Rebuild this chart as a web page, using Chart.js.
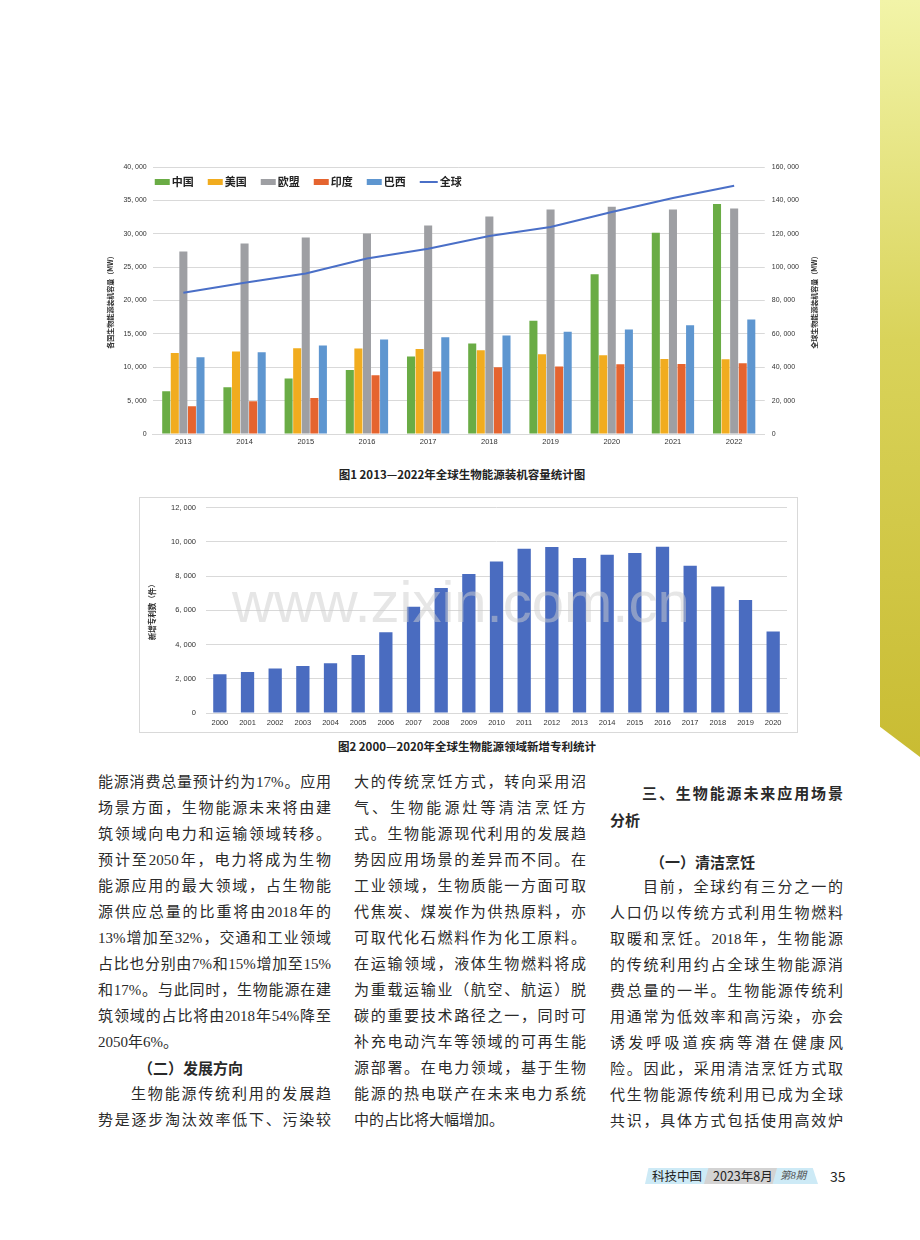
<!DOCTYPE html>
<html>
<head>
<meta charset="utf-8">
<script src="https://cdn.jsdelivr.net/npm/chart.js@4/dist/chart.umd.min.js"></script>
<style>
  body { margin: 0; background: #fff; }
  #page { position: relative; width: 920px; height: 1240px; overflow: hidden; background: #fff;
          font-family: "Liberation Serif", "Noto Sans CJK SC", serif; color: #2a2a2a; }
  .abs { position: absolute; }
  .cap { position: absolute; font-family: "Noto Sans CJK SC", sans-serif; font-weight: bold; font-size: 11.5px;
         color: #222; white-space: nowrap; transform: translateX(-50%); }
  .ln { position: absolute; height: 20px; line-height: 20px; font-size: 15px; white-space: nowrap;
        text-align: justify; text-align-last: justify; }
  .ln.l { text-align-last: left; }
  .hd { font-weight: bold; font-family: "Noto Sans CJK SC", sans-serif; }
  #band { left: 880px; top: 0; width: 40px; height: 757px;
          background: linear-gradient(#f2f4a8, #d9d35a 45%, #c9bc33);
          clip-path: polygon(0 0, 100% 0, 100% 100%, 0 96%); }
  #box2 { left: 139px; top: 497px; width: 657px; height: 234px; border: 1px solid #d9d9d9; }
  #wm { left: 232px; top: 568px; font-family: "Liberation Sans", sans-serif; font-size: 58px;
        color: rgba(205,205,205,0.5); pointer-events: none; white-space: nowrap; }
  .ft { position: absolute; font-family: "Noto Sans CJK SC", sans-serif; font-size: 12.5px; color: #222;
        line-height: 18px; top: 1167px; white-space: nowrap; }
</style>
</head>
<body>
<div id="page">
  <div id="band" class="abs"></div>

  <canvas id="chart1" class="abs" style="left:100px;top:150px;" width="730" height="300"></canvas>
  <div class="cap" style="left:462px;top:466px;">图1 2013—2022年全球生物能源装机容量统计图</div>

  <div id="box2" class="abs">
    <canvas id="chart2" class="abs" style="left:0;top:-5px;" width="657" height="239"></canvas>
  </div>
  <div id="wm" class="abs">www.zixin.com.cn</div>
  <div class="cap" style="left:467px;top:738px;">图2 2000—2020年全球生物能源领域新增专利统计</div>

  <div id="text"></div>

  <div class="abs" style="left:645px;top:1168px;width:173px;height:16px;background:#cdeaf6;clip-path:polygon(2% 0,97% 0,100% 100%,0 100%);"></div>
  <div class="abs" style="left:704px;top:1168px;width:73px;height:16px;background:#d3d3d3;clip-path:polygon(6% 0,100% 0,94% 100%,0 100%);"></div>
  <div class="ft" style="left:652px;">科技中国</div>
  <div class="ft" style="left:713px;">2023年8月</div>
  <div class="ft" style="left:780px;font:italic 10.5px 'Liberation Serif','Noto Sans CJK SC',serif;color:#555;line-height:18px;">第8期</div>
  <div class="ft" style="left:830px;font-size:14px;">35</div>
</div>

<script>
// ---- chart 1 data ----
var years1 = ['2013', '2014', '2015', '2016', '2017', '2018', '2019', '2020', '2021', '2022'];
var china  = [6400, 7000, 8300, 9600, 11600, 13550, 16950, 23950, 30150, 34450];
var usa    = [12150, 12350, 12850, 12800, 12750, 12550, 11950, 11800, 11250, 11200];
var eu     = [27350, 28550, 29450, 30050, 31250, 32600, 33650, 34050, 33650, 33800];
var india  = [4150, 4900, 5400, 8800, 9350, 10000, 10100, 10450, 10500, 10600];
var brazil = [11500, 12250, 13250, 14150, 14500, 14750, 15300, 15650, 16300, 17150];
var globalTotal = [84600, 90600, 96200, 105200, 111000, 118600, 124000, 133000, 141400, 148800];

// ---- chart 2 data ----
var years2 = ['2000', '2001', '2002', '2003', '2004', '2005', '2006', '2007', '2008', '2009', '2010',
              '2011', '2012', '2013', '2014', '2015', '2016', '2017', '2018', '2019', '2020'];
var patents = [2270, 2390, 2600, 2740, 2910, 3380, 4720, 6210, 7300, 8120, 8850,
               9590, 9690, 9050, 9240, 9340, 9710, 8600, 7380, 6600, 4760];

var tickFont = { family: 'Liberation Sans', size: 7 };
var cjk = 'Noto Sans CJK SC';
var grid = '#d9d9d9';

function fmt(v) {
  return Number(v).toLocaleString('en-US').replace(/,/g, ', ');
}

Chart.defaults.color = '#333';
Chart.defaults.animation = false;

// right axis title reads bottom-to-top like the left one
var rightTitle = {
  id: 'rightTitle',
  afterDraw: function(chart) {
    var s = chart.scales.y1, ctx = chart.ctx;
    ctx.save();
    ctx.translate(s.right + 8, (chart.chartArea.top + chart.chartArea.bottom) / 2);
    ctx.rotate(-Math.PI / 2);
    ctx.font = 'bold 7px "' + cjk + '"';
    ctx.fillStyle = '#333';
    ctx.textAlign = 'center';
    ctx.textBaseline = 'middle';
    ctx.fillText('全球生物能源装机容量（MW）', 0, 0);
    ctx.restore();
  }
};

// one-row legend inside the plot, top left
var innerLegend = {
  id: 'innerLegend',
  afterDatasetsDraw: function(chart) {
    var ctx = chart.ctx, area = chart.chartArea;
    var x = area.left + 2, y = 32;
    ctx.save();
    ctx.font = 'bold 11px "' + cjk + '"';
    ctx.textBaseline = 'middle';
    chart.data.datasets.forEach(function(ds) {
      if (ds.type === 'line') {
        ctx.strokeStyle = ds.borderColor;
        ctx.lineWidth = 2;
        ctx.beginPath();
        ctx.moveTo(x, y);
        ctx.lineTo(x + 18, y);
        ctx.stroke();
        x += 20;
      } else {
        ctx.fillStyle = ds.backgroundColor;
        ctx.fillRect(x, y - 3, 15, 6);
        x += 17;
      }
      ctx.fillStyle = '#222';
      ctx.fillText(ds.label, x, y);
      x += ctx.measureText(ds.label).width + 14;
    });
    ctx.restore();
  }
};

function bars(label, data, color) {
  return { label: label, data: data, backgroundColor: color, yAxisID: 'y', order: 1,
           categoryPercentage: 0.7, barPercentage: 0.94 };
}

new Chart(document.getElementById('chart1'), {
  type: 'bar',
  data: {
    labels: years1,
    datasets: [
      bars('中国', china, '#6aac45'),
      bars('美国', usa, '#f1ac1f'),
      bars('欧盟', eu, '#9e9fa3'),
      bars('印度', india, '#e5642f'),
      bars('巴西', brazil, '#5e96d0'),
      { type: 'line', label: '全球', data: globalTotal, yAxisID: 'y1', order: 0,
        borderColor: '#4a6fc7', backgroundColor: '#4a6fc7', borderWidth: 2,
        pointRadius: 0, tension: 0 }
    ]
  },
  options: {
    responsive: false,
    devicePixelRatio: 1,
    layout: { padding: { top: 17, left: 4, right: 24, bottom: 1 } },
    plugins: {
      tooltip: { enabled: false },
      legend: { display: false }
    },
    scales: {
      x: {
        grid: { display: false, drawTicks: false },
        border: { color: grid },
        ticks: { font: { family: 'Liberation Sans', size: 7.5 }, padding: 3 }
      },
      y: {
        position: 'left',
        min: 0, max: 40000,
        ticks: { stepSize: 5000, font: tickFont, padding: 6, callback: fmt },
        grid: { color: grid, drawTicks: false },
        border: { display: false },
        title: { display: true, text: '各国生物能源装机容量（MW）',
                 font: { family: cjk, size: 7, weight: 'bold' }, color: '#333', padding: { top: 2, bottom: 3 } }
      },
      y1: {
        position: 'right',
        min: 0, max: 160000,
        ticks: { stepSize: 20000, font: tickFont, padding: 7, callback: fmt },
        grid: { drawOnChartArea: false, drawTicks: false },
        border: { display: false }
      }
    }
  },
  plugins: [rightTitle, innerLegend]
});

new Chart(document.getElementById('chart2'), {
  type: 'bar',
  data: {
    labels: years2,
    datasets: [{ label: '新增专利数', data: patents, backgroundColor: '#4a6cc0',
                 categoryPercentage: 1, barPercentage: 0.48 }]
  },
  options: {
    responsive: false,
    devicePixelRatio: 1,
    layout: { padding: { top: 0, left: 4, right: 10, bottom: 0 } },
    plugins: { legend: { display: false }, tooltip: { enabled: false } },
    scales: {
      x: {
        grid: { display: false, drawTicks: false },
        border: { color: grid },
        ticks: { font: { family: 'Liberation Sans', size: 7.5 }, padding: 5, autoSkip: false, maxRotation: 0 }
      },
      y: {
        min: 0, max: 12000,
        ticks: { stepSize: 2000, font: { family: 'Liberation Sans', size: 7.5 }, padding: 10, callback: fmt },
        grid: { color: grid, drawTicks: false },
        border: { display: false },
        title: { display: true, text: '新增专利数（件）',
                 font: { family: cjk, size: 7.5, weight: 'bold' }, color: '#333', padding: 4 }
      }
    }
  }
});

// ---- body text ----
var col1 = [
  '能源消费总量预计约为17%。应用',
  '场景方面，生物能源未来将由建',
  '筑领域向电力和运输领域转移。',
  '预计至2050年，电力将成为生物',
  '能源应用的最大领域，占生物能',
  '源供应总量的比重将由2018年的',
  '13%增加至32%，交通和工业领域',
  '占比也分别由7%和15%增加至15%',
  '和17%。与此同时，生物能源在建',
  '筑领域的占比将由2018年54%降至',
  '2050年6%。',
  '#（二）发展方向',
  '>生物能源传统利用的发展趋',
  '势是逐步淘汰效率低下、污染较'
];
var col2 = [
  '大的传统烹饪方式，转向采用沼',
  '气、生物能源灶等清洁烹饪方',
  '式。生物能源现代利用的发展趋',
  '势因应用场景的差异而不同。在',
  '工业领域，生物质能一方面可取',
  '代焦炭、煤炭作为供热原料，亦',
  '可取代化石燃料作为化工原料。',
  '在运输领域，液体生物燃料将成',
  '为重载运输业（航空、航运）脱',
  '碳的重要技术路径之一，同时可',
  '补充电动汽车等领域的可再生能',
  '源部署。在电力领域，基于生物',
  '能源的热电联产在未来电力系统',
  '中的占比将大幅增加。'
];
var col3 = [
  '>目前，全球约有三分之一的',
  '人口仍以传统方式利用生物燃料',
  '取暖和烹饪。2018年，生物能源',
  '的传统利用约占全球生物能源消',
  '费总量的一半。生物能源传统利',
  '用通常为低效率和高污染，亦会',
  '诱发呼吸道疾病等潜在健康风',
  '险。因此，采用清洁烹饪方式取',
  '代生物能源传统利用已成为全球',
  '共识，具体方式包括使用高效炉'
];

var textBox = document.getElementById('text');
function addLine(str, left, width, cy, opts) {
  var d = document.createElement('div');
  d.className = 'ln';
  var indent = 0;
  if (str.charAt(0) === '#') { str = str.slice(1); d.className += ' hd l'; indent = 40; }
  else if (str.charAt(0) === '>') { str = str.slice(1); indent = 33; }
  if (opts && opts.last) d.className += ' l';
  if (opts && opts.cls) d.className += ' ' + opts.cls;
  d.textContent = str;
  d.style.left = (left + indent) + 'px';
  d.style.width = (width - indent) + 'px';
  d.style.top = (cy - 10) + 'px';
  if (opts && opts.size) d.style.fontSize = opts.size + 'px';
  textBox.appendChild(d);
}
var pitch = 26.0;
col1.forEach(function(s, i) {
  addLine(s, 98, 233, 782 + i * pitch, { last: i === 10 || i === 11 });
});
col2.forEach(function(s, i) {
  addLine(s, 354, 232, 782 + i * pitch, { last: i === 13 });
});
col3.forEach(function(s, i) {
  addLine(s, 610, 233, 887 + i * pitch, {});
});
addLine('三、生物能源未来应用场景', 642, 201, 793, { cls: 'hd', size: 15 });
addLine('分析', 610, 40, 820, { cls: 'hd l', size: 15 });
addLine('#（一）清洁烹饪', 610, 200, 862, {});
</script>
</body>
</html>
